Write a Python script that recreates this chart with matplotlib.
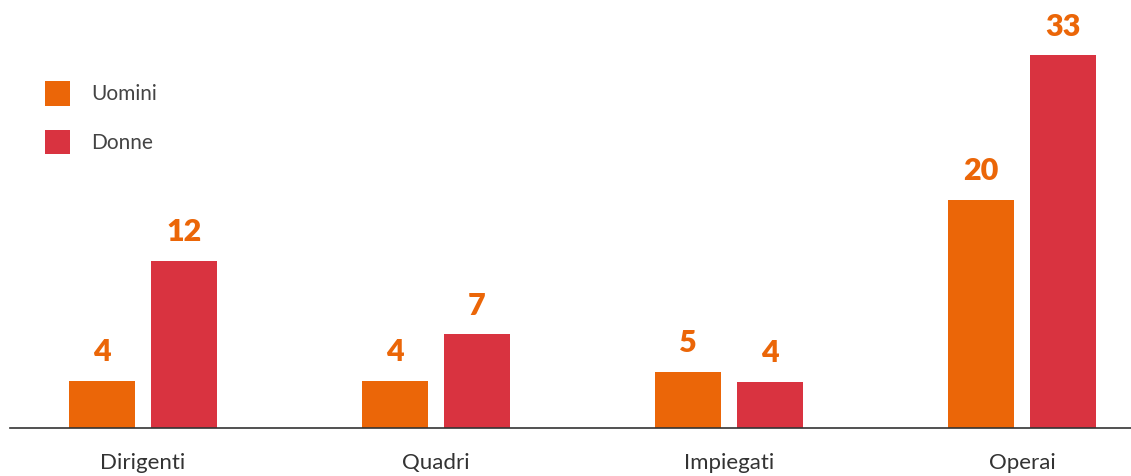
import matplotlib.pyplot as plt
import numpy as np

categories = ["Dirigenti", "Quadri", "Impiegati", "Operai"]
series = ["Uomini", "Donne"]
# labels printed above bars
uomini = [4, 4, 5, 20]
donne = [12, 7, 4, 33]
# bar heights as drawn in the picture (not exactly proportional to the labels)
uomini_h = [4.2, 4.2, 5.0, 20.2]
donne_h = [14.8, 8.3, 4.1, 33.0]

orange = "#EB6608"
red = "#D93340"

plt.rcParams['font.family'] = ['Lato', 'DejaVu Sans']

fig = plt.figure(figsize=(11.31, 4.76), dpi=100)
ax = fig.add_axes([0, 48/476, 1, 428/476])

x = np.arange(len(categories))
w = 0.225
off = 0.14

ax.bar(x - off, uomini_h, w, color=orange, label=series[0], zorder=2)
ax.bar(x + off, donne_h, w, color=red, label=series[1], zorder=2)

for xi, h, v in zip(x - off, uomini_h, uomini):
    ax.text(xi, h + 1.3, str(v), ha='center', va='bottom', color=orange,
            fontsize=22, fontweight='heavy')
for xi, h, v in zip(x + off, donne_h, donne):
    ax.text(xi, h + 1.3, str(v), ha='center', va='bottom', color=orange,
            fontsize=22, fontweight='heavy')

ax.set_xlim(-0.488, 3.372)
ax.set_ylim(0, 37.9)

for s in ['top', 'right', 'left']:
    ax.spines[s].set_visible(False)
ax.spines['bottom'].set_color('#333333')
ax.spines['bottom'].set_linewidth(1.2)
ax.spines['bottom'].set_bounds(-0.454, 3.372)
ax.set_yticks([])
ax.set_xticks(x)
ax.set_xticklabels(categories, fontsize=16, color='#333333')
ax.tick_params(axis='x', length=0, pad=18)

leg = fig.legend(loc='upper left', bbox_to_anchor=(45/1131, 1 - 81/476),
                 bbox_transform=fig.transFigure, frameon=False,
                 fontsize=15, handlelength=1.2, handleheight=1.45,
                 labelspacing=1.15, handletextpad=1.0,
                 borderpad=0, borderaxespad=0)
for t in leg.get_texts():
    t.set_color('#444444')

fig.savefig("out.png", dpi=100)
